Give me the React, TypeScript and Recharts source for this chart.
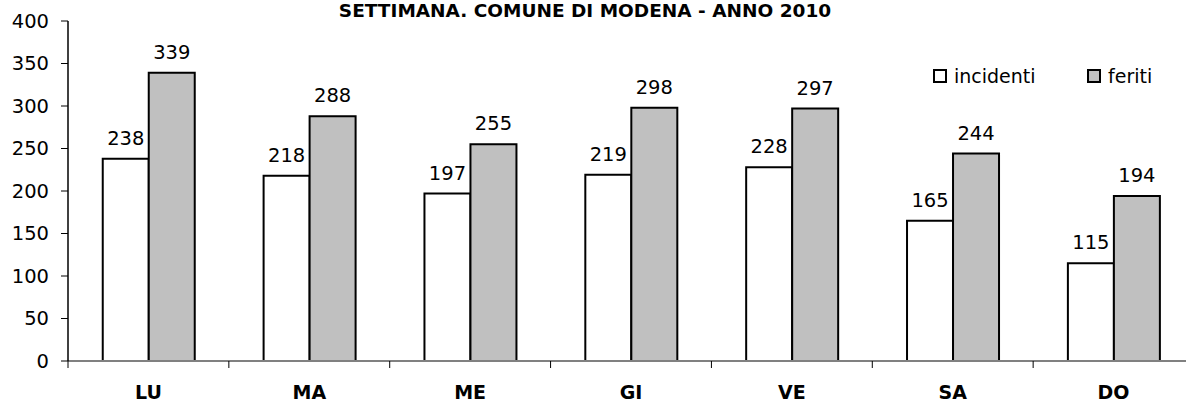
import { Bar, BarChart, LabelList, XAxis, YAxis } from "recharts";

const days = ["LU", "MA", "ME", "GI", "VE", "SA", "DO"];
const incidenti = [238, 218, 197, 219, 228, 165, 115];
const feriti = [339, 288, 255, 298, 297, 244, 194];
const yTicks = [0, 50, 100, 150, 200, 250, 300, 350, 400];

const TITLE = "SETTIMANA. COMUNE DI MODENA - ANNO 2010";
const FONT = "'DejaVu Sans', Verdana, sans-serif";

const CHART_W = 1194;
const CHART_H = 402;
const Y_W = 68;
const BAND = (CHART_W - Y_W) / days.length;

const data = days.map((day, i) => ({
	day,
	incidenti: incidenti[i],
	feriti: feriti[i],
}));

type TickProps = {
	x?: number;
	y?: number;
	index?: number;
	payload?: { value: string };
};

function DayTick({ x = 0, y = 0, index = 0, payload }: TickProps) {
	const last = index === days.length - 1;
	return (
		<g>
			<line x1={x - BAND / 2} x2={x - BAND / 2} y1={y} y2={y + 7} stroke="#000" strokeWidth={1} />
			{last && (
				<line x1={x + BAND / 2} x2={x + BAND / 2} y1={y} y2={y + 7} stroke="#000" strokeWidth={1} />
			)}
			<text
				x={x}
				y={y + 38}
				textAnchor="middle"
				fontFamily={FONT}
				fontWeight="bold"
				fontSize={19}
				fill="#000"
			>
				{payload?.value}
			</text>
		</g>
	);
}

function LegendItem({ label, fill, left }: { label: string; fill: string; left: number }) {
	return (
		<div style={{ position: "absolute", left, top: 66, display: "flex", alignItems: "center" }}>
			<span
				style={{
					display: "inline-block",
					width: 10,
					height: 10,
					border: "2px solid #000",
					background: fill,
					marginRight: 7,
				}}
			/>
			<span style={{ fontFamily: FONT, fontSize: 19, color: "#000", lineHeight: "20px" }}>{label}</span>
		</div>
	);
}

export default function App() {
	const labelStyle = { fontFamily: FONT, fontSize: 19.5, fill: "#000" };
	return (
		<div
			style={{
				position: "absolute",
				left: 0,
				top: 0,
				width: 1186,
				height: CHART_H,
				overflow: "hidden",
				background: "#fff",
			}}
		>
			<BarChart
				width={CHART_W}
				height={CHART_H}
				data={data}
				margin={{ top: 21, right: 0, bottom: 0, left: 0 }}
				barCategoryGap="21.6%"
				barGap={0}
			>
				<XAxis
					dataKey="day"
					height={41}
					axisLine={{ stroke: "#808080", strokeWidth: 2 }}
					tickLine={false}
					tickSize={0}
					tickMargin={0}
					tick={<DayTick />}
					interval={0}
				/>
				<YAxis
					width={Y_W}
					domain={[0, 400]}
					ticks={yTicks}
					interval={0}
					axisLine={{ stroke: "#000", strokeWidth: 1.5 }}
					tickLine={{ stroke: "#000" }}
					tickSize={7}
					tickMargin={12}
					tick={labelStyle}
				/>
				<Bar dataKey="incidenti" fill="#ffffff" stroke="#000" strokeWidth={2} isAnimationActive={false}>
					<LabelList dataKey="incidenti" position="top" offset={14} style={labelStyle} />
				</Bar>
				<Bar dataKey="feriti" fill="#c0c0c0" stroke="#000" strokeWidth={2} isAnimationActive={false}>
					<LabelList dataKey="feriti" position="top" offset={14} style={labelStyle} />
				</Bar>
			</BarChart>
			<div
				style={{
					position: "absolute",
					left: 585,
					top: 0,
					transform: "translateX(-50%)",
					whiteSpace: "nowrap",
					fontFamily: FONT,
					fontWeight: "bold",
					fontSize: 18.5,
					lineHeight: "22px",
					color: "#000",
				}}
			>
				{TITLE}
			</div>
			<LegendItem label="incidenti" fill="#fff" left={933} />
			<LegendItem label="feriti" fill="#c0c0c0" left={1087} />
		</div>
	);
}
